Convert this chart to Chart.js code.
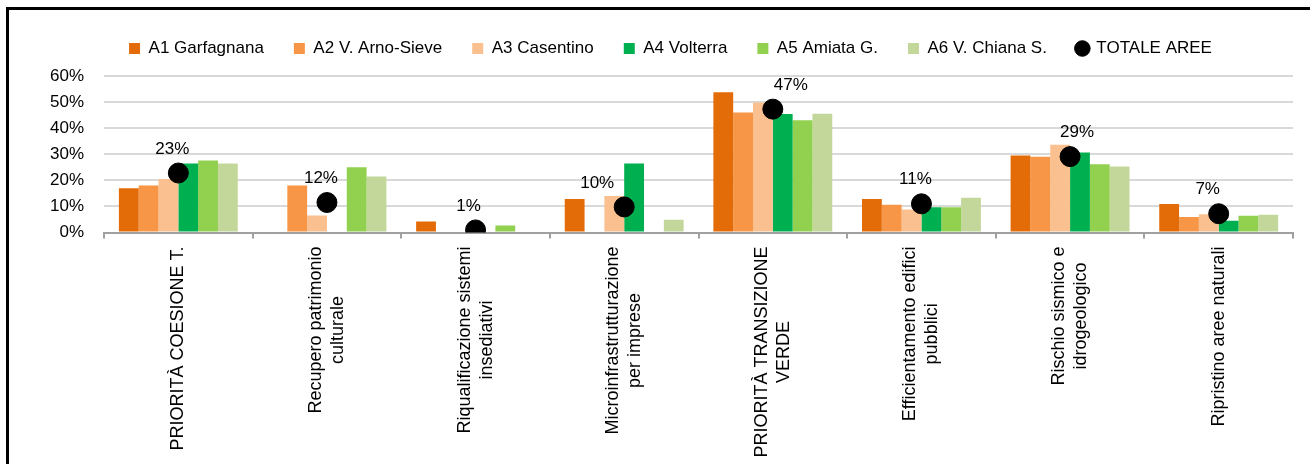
<!DOCTYPE html>
<html>
<head>
<meta charset="utf-8">
<script src="https://cdn.jsdelivr.net/npm/chart.js@4.4.1/dist/chart.umd.min.js"></script>
<style>
  html, body { margin: 0; padding: 0; background: #fff; }
  #wrap { position: relative; width: 1310px; height: 464px; }
  #frame { position: absolute; left: 6px; top: 7px; right: 0; bottom: 0;
           border-left: 3px solid #000; border-top: 3px solid #000; }
  #grafico { position: absolute; left: 0; top: 0; }
</style>
</head>
<body>
<div id="wrap">
  <div id="frame"></div>
  <canvas id="grafico" width="1310" height="464"></canvas>
</div>
<script>
// categorie (asse x, su più righe)
const categorie = [
  ['PRIORITÀ COESIONE T.'],
  ['Recupero patrimonio', 'culturale'],
  ['Riqualificazione sistemi', 'insediativi'],
  ['Microinfrastrutturazione', 'per imprese'],
  ['PRIORITÀ TRANSIZIONE', 'VERDE'],
  ['Efficientamento edifici', 'pubblici'],
  ['Rischio sismico e', 'idrogeologico'],
  ['Ripristino aree naturali']
];

// valori in % per area
const a1Garfagnana = [17.0, 0, 4.2, 12.8, 53.8, 12.8, 29.5, 10.9];
const a2ArnoSieve  = [18.0, 18.0, 0, 0, 46.0, 10.6, 29.0, 5.9];
const a3Casentino  = [20.5, 6.5, 0, 14.0, 49.8, 8.8, 33.6, 7.0];
const a4Volterra   = [26.5, 0, 0, 26.5, 45.4, 9.7, 30.7, 4.5];
const a5Amiata     = [27.6, 25.0, 2.7, 0, 43.0, 9.7, 26.2, 6.4];
const a6Chiana     = [26.5, 21.5, 0, 4.9, 45.5, 13.3, 25.3, 6.8];
const totaleAree   = [22.8, 11.5, 1.0, 9.8, 47.3, 11.0, 29.1, 7.2];

// tick asse y
const tickY = [0, 10, 20, 30, 40, 50, 60];

// spostamento orizzontale delle etichette del totale (come nell'originale)
const spostaEtichetta = [-6, -6, -7, -27, 18, -6, 7, -11];

const FONT = 'Liberation Sans, Arial, sans-serif';
const SIZE = 17;
const SIZE_X = 18;

// spazio extra sotto la legenda e piccolo spostamento a destra
const spazioLegenda = {
  id: 'spazioLegenda',
  beforeInit(chart) {
    const fitOrig = chart.legend.fit;
    chart.legend.fit = function () {
      fitOrig.call(this);
      this.height += 9;
    };
  },
  afterLayout(chart) {
    chart.legend.left += 9;
    chart.legend.right += 9;
  }
};

// etichette % sopra i pallini del totale
const etichetteTotale = {
  id: 'etichetteTotale',
  afterDatasetsDraw(chart) {
    const ctx = chart.ctx;
    const idx = chart.data.datasets.length - 1;
    const meta = chart.getDatasetMeta(idx);
    ctx.save();
    ctx.font = SIZE + 'px ' + FONT;
    ctx.fillStyle = '#000';
    ctx.textAlign = 'center';
    ctx.textBaseline = 'middle';
    meta.data.forEach((p, i) => {
      const v = chart.data.datasets[idx].data[i];
      ctx.fillText(Math.round(v) + '%', p.x + spostaEtichetta[i], p.y - 24);
    });
    ctx.restore();
  }
};

// etichette asse x ruotate, righe centrate tra loro
const etichetteX = {
  id: 'etichetteX',
  afterDraw(chart) {
    const ctx = chart.ctx;
    const sx = chart.scales.x;
    const lh = 22;
    ctx.save();
    ctx.font = SIZE_X + 'px ' + FONT;
    ctx.fillStyle = '#000';
    ctx.textAlign = 'center';
    ctx.textBaseline = 'middle';
    categorie.forEach((righe, i) => {
      const x = sx.getPixelForTick(i);
      const top = sx.top + 14;
      const maxW = Math.max(...righe.map(r => ctx.measureText(r).width));
      ctx.save();
      ctx.translate(x, top);
      ctx.rotate(-Math.PI / 2);
      righe.forEach((r, j) => {
        ctx.fillText(r, -maxW / 2, (j - (righe.length - 1) / 2) * lh);
      });
      ctx.restore();
    });
    ctx.restore();
  }
};

function barra(label, data, colore) {
  return {
    type: 'bar',
    label: label,
    data: data,
    backgroundColor: colore,
    borderWidth: 0,
    categoryPercentage: 0.8,
    barPercentage: 1.0,
    pointStyle: 'rect',
    order: 2
  };
}

const datasets = [
  barra('A1 Garfagnana', a1Garfagnana, '#E36C09'),
  barra('A2 V. Arno-Sieve', a2ArnoSieve, '#F79646'),
  barra('A3 Casentino', a3Casentino, '#FAC08F'),
  barra('A4 Volterra', a4Volterra, '#00B050'),
  barra('A5 Amiata G.', a5Amiata, '#92D050'),
  barra('A6 V. Chiana S.', a6Chiana, '#C4D79B'),
  {
    type: 'line',
    label: 'TOTALE AREE',
    data: totaleAree,
    showLine: false,
    pointStyle: 'circle',
    pointRadius: 10,
    pointHoverRadius: 10,
    backgroundColor: '#000',
    borderColor: '#000',
    order: 1
  }
];

const ctx = document.getElementById('grafico').getContext('2d');
new Chart(ctx, {
  type: 'bar',
  data: { labels: categorie, datasets: datasets },
  plugins: [spazioLegenda, etichetteTotale, etichetteX],
  options: {
    responsive: false,
    animation: false,
    devicePixelRatio: 1,
    layout: { padding: { left: 30, right: 17, top: 10, bottom: 9 } },
    plugins: {
      tooltip: { enabled: false },
      legend: {
        position: 'top',
        labels: {
          usePointStyle: true,
          boxWidth: 11,
          boxHeight: 11,
          padding: 30,
          color: '#000',
          font: { family: FONT, size: SIZE },
          sort: (a, b) => a.datasetIndex - b.datasetIndex
        }
      }
    },
    scales: {
      x: {
        grid: {
          display: true,
          offset: true,
          drawOnChartArea: false,
          tickLength: 6,
          color: '#a0a0a0',
          lineWidth: 2
        },
        border: { display: true, color: '#a0a0a0', width: 2 },
        ticks: {
          minRotation: 90,
          maxRotation: 90,
          padding: 6,
          color: 'rgba(0,0,0,0)',
          font: { family: FONT, size: SIZE_X }
        }
      },
      y: {
        min: 0,
        max: 60,
        afterBuildTicks(scale) { scale.ticks = tickY.map(v => ({ value: v })); },
        grid: { color: '#d9d9d9', lineWidth: 2, drawTicks: false },
        border: { display: false },
        ticks: {
          padding: 20,
          color: '#000',
          font: { family: FONT, size: SIZE },
          callback: v => v + '%'
        }
      }
    }
  }
});
</script>
</body>
</html>
